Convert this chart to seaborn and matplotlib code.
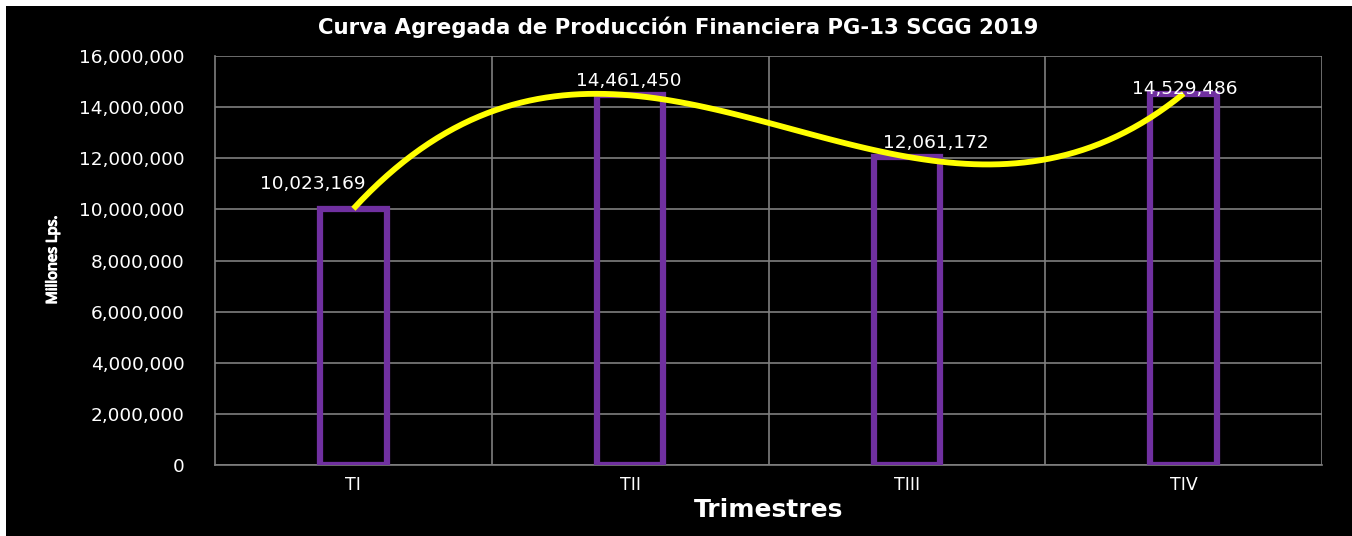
import numpy as np, pandas as pd
import matplotlib as mpl; mpl.use("Agg")
import matplotlib.pyplot as plt
import matplotlib.patheffects as pe
import seaborn as sns
from matplotlib.ticker import FuncFormatter, MultipleLocator

TRIMESTRES = ["TI", "TII", "TIII", "TIV"]
PRODUCCION = [10023169, 14461450, 12061172, 14529486]
TITULO = "Curva Agregada de Producción Financiera PG-13 SCGG 2019"
YLAB = "Millones Lps."
XLAB = "Trimestres"

MORADO = "#7030A0"; AMARILLO = "#FFFF00"; GRIS = "#7f7f7f"

sns.set_theme(style="dark")
plt.rcParams["font.family"] = ["DejaVu Sans"]

df = pd.DataFrame({"trim": TRIMESTRES, "prod": PRODUCCION, "pos": range(len(TRIMESTRES))})

fig = plt.figure(figsize=(13.52, 5.36), dpi=100, facecolor="black")
# borde blanco arriba e izquierda como en la captura
for r in [(0, 1-6/536, 1, 6/536), (0, 0, 6/1352, 1)]:
    fig.patches.append(mpl.patches.Rectangle(r[:2], r[2], r[3], transform=fig.transFigure,
                                             facecolor="white", edgecolor="none"))
ax = fig.add_axes([215/1352, 1-465/536, (1322-215)/1352, (465-56)/536])
ax.set_facecolor("black")

sns.barplot(data=df, x="trim", y="prod", ax=ax, width=0.24, color="black",
            edgecolor=MORADO, linewidth=4.5, zorder=3)
for p in ax.patches: p.set_facecolor("none")

# linea de tendencia polinomica de orden 3 (como Excel)
sns.regplot(data=df, x="pos", y="prod", order=3, ci=None, scatter=False, truncate=True, ax=ax,
            line_kws=dict(color=AMARILLO, lw=4.2, solid_capstyle="butt", zorder=4))

# etiquetas de datos (desplazamiento en puntos)
offs = [(-29, 18), (-1, 10), (21, 10), (1, 3)]
for i, v in enumerate(PRODUCCION):
    ax.annotate(f"{v:,}", (i, v), xytext=offs[i], textcoords="offset points",
                ha="center", va="center", color="white", fontsize=13.3, zorder=5)

ax.set_xlim(-0.5, 3.5); ax.set_ylim(0, 16000000)
ax.yaxis.set_major_locator(MultipleLocator(2000000))
ax.yaxis.set_major_formatter(FuncFormatter(lambda v, _: f"{int(v):,}"))
ax.set_xticks([0.5, 1.5, 2.5, 3.5], minor=True)
ax.grid(False)
ax.grid(True, axis="y", which="major", color=GRIS, lw=1.2, zorder=0)
ax.grid(True, axis="x", which="minor", color=GRIS, lw=1.2, zorder=0)
for s in ("top", "right"): ax.spines[s].set_visible(False)
for s in ("left", "bottom"):
    ax.spines[s].set_color(GRIS); ax.spines[s].set_linewidth(1.2)
ax.tick_params(axis="both", which="both", length=0, colors="white", labelsize=13.3)
ax.tick_params(axis="y", pad=22)
ax.tick_params(axis="x", pad=8, labelsize=12.5)

ax.set_xlabel(XLAB, color="white", fontsize=18, fontweight="bold", labelpad=3)
ax.set_ylabel("")
fig.text(53/1352, 1-260/536, YLAB, rotation=90, ha="center", va="center", color="white",
         fontsize=10.5, fontweight="bold", fontstretch="condensed",
         family=["Noto Sans", "DejaVu Sans"],
         path_effects=[pe.withStroke(linewidth=0.9, foreground="white")])
fig.text(678/1352, 1-27/536, TITULO, ha="center", va="center", color="white",
         fontsize=15.3, fontweight="bold")

fig.savefig("out.png", dpi=100, facecolor=fig.get_facecolor())
